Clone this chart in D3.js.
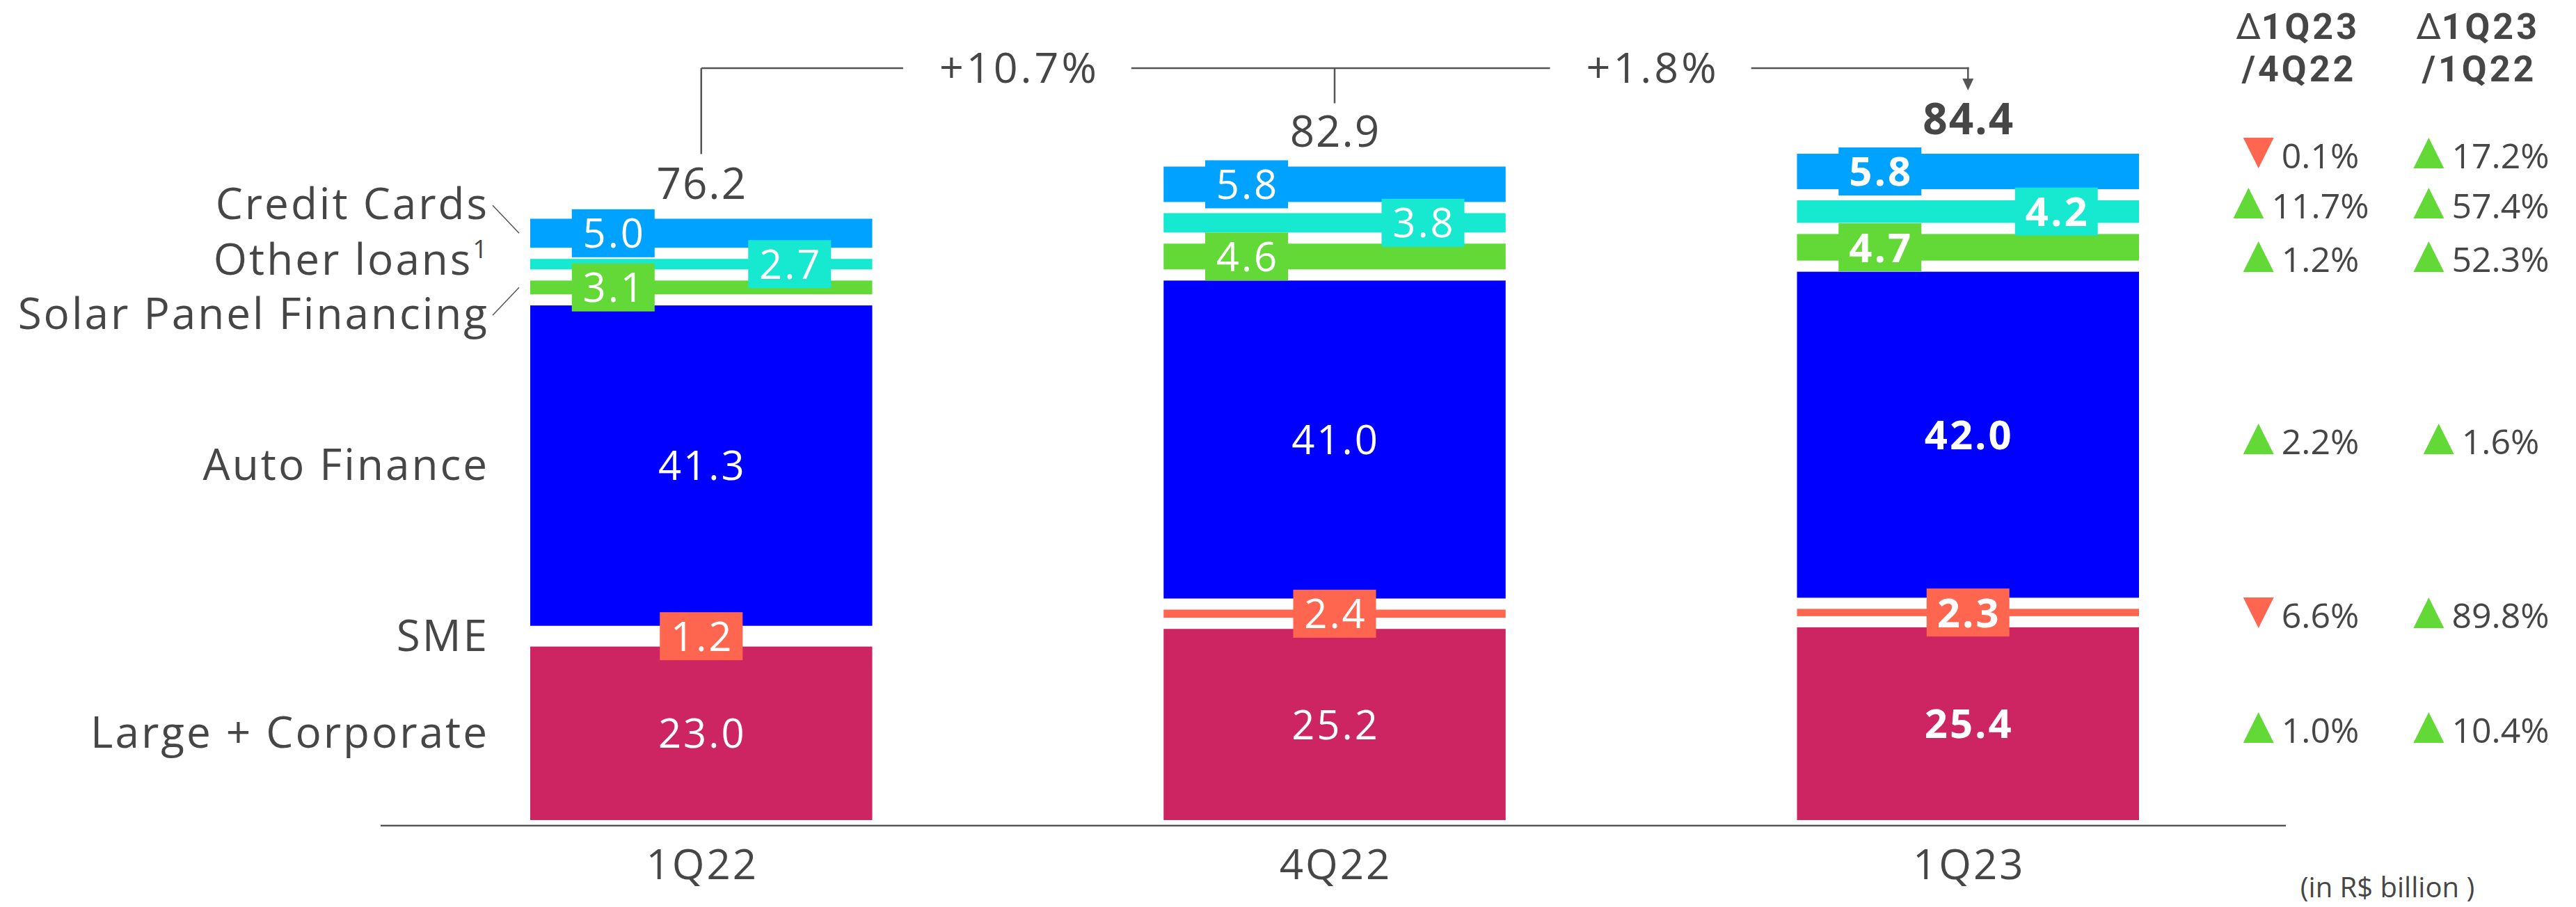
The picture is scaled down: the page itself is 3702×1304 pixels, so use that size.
<!DOCTYPE html>
<html><head><meta charset="utf-8">
<script src="https://cdn.jsdelivr.net/npm/d3@7"></script>
<style>
html,body{margin:0;padding:0;background:#fff;}
svg{display:block;font-family:'Open Sans',sans-serif;}
</style>
</head><body>
<svg id="chart" width="3702" height="1304"></svg>
<script>
// ---------------- data ----------------
const quarters = ["1Q22", "4Q22", "1Q23"];
const seriesNames = ["Large + Corporate", "SME", "Auto Finance", "Solar Panel Financing", "Other loans", "Credit Cards"];
const largeCorporate = [23.0, 25.2, 25.4];
const sme = [1.2, 2.4, 2.3];
const autoFinance = [41.3, 41.0, 42.0];
const solarPanel = [3.1, 4.6, 4.7];
const otherLoans = [2.7, 3.8, 4.2];
const creditCards = [5.0, 5.8, 5.8];
const totals = [76.2, 82.9, 84.4];
const growthLabels = ["+10.7%", "+1.8%"];
// table rows, top to bottom: Credit Cards, Other loans, Solar, Auto, SME, Large + Corporate
const deltaVs4Q22 = [-0.1, 11.7, 1.2, 2.2, -6.6, 1.0];
const deltaVs1Q22 = [17.2, 57.4, 52.3, 1.6, 89.8, 10.4];
const deltaHeaders = [["1Q23", "/4Q22"], ["1Q23", "/1Q22"]];
const unitNote = "(in R$ billion )";

// ---------------- styles / layout ----------------
const colors = ["#CC2561", "#FF6650", "#0000FF", "#62D936", "#17E8D0", "#00A2FF"];
const textColor = "#464646";
const lineColor = "#555555";
const labelMode = ["plain", "center", "plain", "left", "right", "left"];
const tableRowY = [242, 314, 391, 653, 903, 1068];
const tableColX = [3307, 3566];

const seriesValues = [largeCorporate, sme, autoFinance, solarPanel, otherLoans, creditCards];
const rows = quarters.map((q, i) => {
  const r = {q};
  seriesNames.forEach((s, j) => r[s] = seriesValues[j][i]);
  return r;
});
const stacked = d3.stack().keys(seriesNames)(rows);

const svg = d3.select("#chart");
const baseY = 1187;
const y = d3.scaleLinear().domain([0, 84.4]).range([baseY, baseY - 84.4 * 11.54]);
const x = d3.scaleBand().domain(quarters).range([552, 3284]).paddingInner(0.46).paddingOuter(0.2307);
const inset = 8;

// bars
stacked.forEach((layer, si) => {
  svg.append("g").selectAll("rect").data(layer).join("rect")
    .attr("x", d => x(d.data.q))
    .attr("width", x.bandwidth())
    .attr("y", d => y(d[1]) + inset)
    .attr("height", d => Math.max(0, y(d[0]) - y(d[1]) - 2 * inset))
    .attr("fill", colors[si]);
});

// axis baseline
svg.append("line").attr("x1", 547).attr("x2", 3285).attr("y1", baseY).attr("y2", baseY)
  .attr("stroke", lineColor).attr("stroke-width", 2.5);

// category labels
const xAxis = d3.axisBottom(x).tickSize(0).tickPadding(0);
const gx = svg.append("g").attr("transform", `translate(0,${baseY})`).call(xAxis);
gx.select(".domain").remove();
gx.selectAll("text").attr("font-size", 60).attr("fill", textColor)
  .attr("font-family", "'Open Sans',sans-serif").attr("letter-spacing", 3)
  .attr("dx", 1.5).attr("dy", null).attr("y", 77);

// value labels
const boxW = 119, boxH = 69;
stacked.forEach((layer, si) => {
  layer.forEach((d, qi) => {
    const cx = x(d.data.q) + x.bandwidth() / 2;
    const cy = (y(d[0]) + y(d[1])) / 2;
    const mode = labelMode[si];
    let tx = cx;
    if (mode === "left") tx = cx - 126.5;
    if (mode === "right") tx = cx + 127;
    if (mode !== "plain") {
      svg.append("rect").attr("x", tx - boxW / 2).attr("y", cy - boxH / 2)
        .attr("width", boxW).attr("height", boxH).attr("fill", colors[si]);
    }
    svg.append("text").attr("x", tx + 1.5).attr("y", cy + 21)
      .attr("text-anchor", "middle").attr("font-size", 58).attr("fill", "#fff")
      .attr("letter-spacing", 3)
      .attr("font-weight", qi === 2 ? 700 : 400)
      .text(d.data[seriesNames[si]].toFixed(1));
  });
});

// totals
const topLayer = stacked[stacked.length - 1];
const totalBase = [];
topLayer.forEach((d, qi) => {
  const cx = x(d.data.q) + x.bandwidth() / 2;
  const by = y(d[1]) + inset - 28;
  totalBase.push(by);
  svg.append("text").attr("x", cx + 1).attr("y", by).attr("text-anchor", "middle")
    .attr("font-size", 62).attr("fill", textColor).attr("letter-spacing", 2)
    .attr("font-weight", qi === 2 ? 700 : 400)
    .text(totals[qi].toFixed(1));
});

// growth bracket
const bracketY = 98;
const centers = quarters.map(q => x(q) + x.bandwidth() / 2);
const ln = (x1, y1, x2, y2) => svg.append("line").attr("x1", x1).attr("y1", y1).attr("x2", x2).attr("y2", y2)
  .attr("stroke", lineColor).attr("stroke-width", 2.5);
ln(centers[0], bracketY, centers[0], totalBase[0] - 45 - 20);
ln(centers[1], bracketY, centers[1], totalBase[1] - 45 - 18);
const arrowTip = totalBase[2] - 45 - 18;
ln(centers[2], bracketY - 1.25, centers[2], arrowTip - 14);
svg.append("path").attr("d", `M${centers[2] - 8},${arrowTip - 17} L${centers[2] + 8},${arrowTip - 17} L${centers[2]},${arrowTip} Z`)
  .attr("fill", lineColor);
growthLabels.forEach((g, i) => {
  const mx = (centers[i] + centers[i + 1]) / 2;
  const t = svg.append("text").attr("x", mx + 2).attr("y", bracketY + 21).attr("text-anchor", "middle")
    .attr("font-size", 61).attr("letter-spacing", 4).attr("fill", textColor).text(g);
  const w = t.node().getComputedTextLength();
  ln(centers[i], bracketY, mx - w / 2 - 50, bracketY);
  ln(mx + w / 2 + 48, bracketY, centers[i + 1] + (i === 1 ? 1.25 : 0), bracketY);
});

// left category labels (aligned to 1Q22 segments)
const labelNudge = [0, 0, 0, 39, -6, -41];
const labelRight = 703;
const firstBarLeft = x(quarters[0]);
stacked.forEach((layer, si) => {
  const d = layer[0];
  const cy = (y(d[0]) + y(d[1])) / 2;
  const by = cy + 21 + labelNudge[si];
  const t = svg.append("text").attr("x", labelRight).attr("y", by).attr("text-anchor", "end")
    .attr("font-size", 62).attr("letter-spacing", 3).attr("fill", textColor);
  if (seriesNames[si] === "Other loans") {
    t.append("tspan").text("Other loans");
    t.append("tspan").attr("font-size", 36).attr("dy", -24).text("1");
  } else {
    t.text(seriesNames[si]);
  }
  if (labelNudge[si] !== 0 && seriesNames[si] !== "Other loans") {
    svg.append("line").attr("x1", labelRight + 5).attr("y1", by - 20)
      .attr("x2", firstBarLeft - 16).attr("y2", cy)
      .attr("stroke", lineColor).attr("stroke-width", 1.5);
  }
});

// delta table headers
deltaHeaders.forEach((h, ci) => {
  const cx = tableColX[ci] - 5;
  const t1 = svg.append("text").attr("x", cx).attr("y", 56).attr("text-anchor", "middle")
    .attr("font-family", "Roboto,sans-serif").attr("font-size", 52).attr("fill", textColor);
  t1.append("tspan").attr("font-weight", 400).text("\u2206");
  t1.append("tspan").attr("font-weight", 700).attr("letter-spacing", 4).text(h[0]);
  svg.append("text").attr("x", cx + 2).attr("y", 117).attr("text-anchor", "middle")
    .attr("font-family", "Roboto,sans-serif").attr("font-size", 52).attr("font-weight", 700)
    .attr("letter-spacing", 4).attr("fill", textColor).text(h[1]);
});
[deltaVs4Q22, deltaVs1Q22].forEach((col, ci) => {
  col.forEach((v, ri) => {
    const by = tableRowY[ri];
    const t = svg.append("text").attr("y", by).attr("font-size", 50).attr("fill", textColor)
      .text(Math.abs(v).toFixed(1) + "%");
    const tw = t.node().getComputedTextLength();
    const triW = 44, triH = 44, gap = 11;
    const start = tableColX[ci] - (triW + gap + tw) / 2;
    t.attr("x", start + triW + gap);
    const up = v >= 0;
    const p = up
      ? `M${start},${by} L${start + triW},${by} L${start + triW / 2},${by - triH} Z`
      : `M${start},${by - triH} L${start + triW},${by - triH} L${start + triW / 2},${by} Z`;
    svg.append("path").attr("d", p).attr("fill", up ? "#62D936" : "#FF6650");
  });
});

// unit note
svg.append("text").attr("x", 3431).attr("y", 1290).attr("text-anchor", "middle")
  .attr("font-size", 40).attr("fill", textColor).text(unitNote);
</script>
</body></html>
